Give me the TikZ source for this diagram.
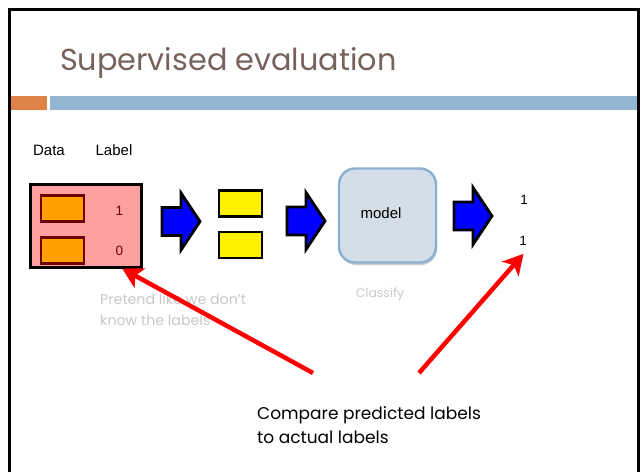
\documentclass[tikz,border=0pt]{standalone}
\usepackage{fontspec}
\setmainfont{Poppins}
\newfontfamily\arialf{Liberation Sans}
\usetikzlibrary{arrows.meta,shadows,calc}
\definecolor{titlec}{RGB}{118,98,90}
\definecolor{barorange}{RGB}{224,130,72}
\definecolor{barblue}{RGB}{147,181,210}
\definecolor{pinkfill}{RGB}{255,160,160}
\definecolor{orangefill}{RGB}{255,160,0}
\definecolor{darkred}{RGB}{110,0,0}
\definecolor{modelfill}{RGB}{211,222,233}
\definecolor{modelline}{RGB}{141,175,207}
\definecolor{greytext}{RGB}{200,200,200}
\tikzset{
  databox/.style={draw=darkred,line width=2.6pt,fill=orangefill,minimum width=43pt,minimum height=26pt,inner sep=0pt},
  featbox/.style={draw=black,line width=2.3pt,fill=yellow,minimum width=43pt,minimum height=26pt,inner sep=0pt},
  small/.style={font=\arialf\fontsize{15}{18}\selectfont,inner sep=0pt},
  digit/.style={font=\arialf\fontsize{13.5}{16}\selectfont,inner sep=0pt},
  greynote/.style={font=\fontsize{14.2}{21}\selectfont,text=greytext,inner sep=0pt,align=left},
  redarrow/.style={draw=red,line width=4.5pt,-{Stealth[length=20pt,width=22pt,inset=5pt]}},
  pics/blockarrow/.style={code={
    \draw[line width=2.8pt,fill=blue,line join=miter]
      (0,-14)--(19,-14)--(19,-28.5)--(38,0)--(19,28.5)--(19,14)--(0,14)--cycle;}}
}
\begin{document}
\begin{tikzpicture}[x=1pt,y=-1pt]
\useasboundingbox (0,0) rectangle (642,472);
% frame
\draw[line width=3pt] (9,472)--(9,9)--(638,9)--(638,472);
% title
\node[anchor=base west,inner sep=0pt,text=titlec,font=\fontsize{30.3}{34}\selectfont] (title) at (60,70) {Supervised evaluation};
% bars
\fill[barorange] (11,96) rectangle (47,110);
\fill[barblue] (50,96) rectangle (637,110);
% headers
\node[small] (hdata) at (49,150) {Data};
\node[small] (hlabel) at (114,150) {Label};
% data box
\node[draw=black,line width=2.1pt,fill=pinkfill,minimum width=111pt,minimum height=83pt,inner sep=0pt] (data) at (86,226) {};
\node[databox] (d1) at (62.5,208.5) {};
\node[databox] (d2) at (62.5,250.5) {};
\node[digit,text=darkred] (l1) at (119.5,211) {1};
\node[digit,text=darkred] (l2) at (119.5,251) {0};
% arrow 1
\pic at (162,221.5) {blockarrow};
% feature boxes
\node[featbox] (f1) at (240.5,203.5) {};
\node[featbox] (f2) at (240.5,245) {};
% arrow 2
\pic at (287,221) {blockarrow};
% model
\node[draw=modelline,line width=2.4pt,fill=modelfill,rounded corners=16pt,minimum width=97pt,minimum height=94pt,
  drop shadow={shadow xshift=1pt,shadow yshift=-2.5pt,opacity=0.35,fill=black!60}] (model) at (387.5,215.5) {};
\node[small] (modeltext) at (381,213) {model};
% arrow 3
\pic at (454,216) {blockarrow};
% outputs
\node[digit] (o1) at (524,200) {1};
\node[digit] (o2) at (523,241) {1};
% grey notes
\node[greynote,anchor=west] (pretend) at (100,309.5) {Pretend like we don’t\\know the labels};
\node[greynote,font=\fontsize{12.5}{15}\selectfont] (classify) at (380,294) {Classify};
% compare
\node[anchor=west,inner sep=0pt,align=left,font=\fontsize{17}{24}\selectfont] (compare) at (257,425) {Compare predicted labels\\to actual labels};
% red arrows
\coordinate (s1) at (313,373);
\coordinate (s2) at (419,373);
\coordinate (t1) at ($(data.south west)!0.82!(data.south east)$);
\coordinate (t2) at ($(o2.south)+(0.5,8)$);
\draw[redarrow] (s1) -- (t1);
\draw[redarrow] (s2) -- (t2);
\end{tikzpicture}
\end{document}
